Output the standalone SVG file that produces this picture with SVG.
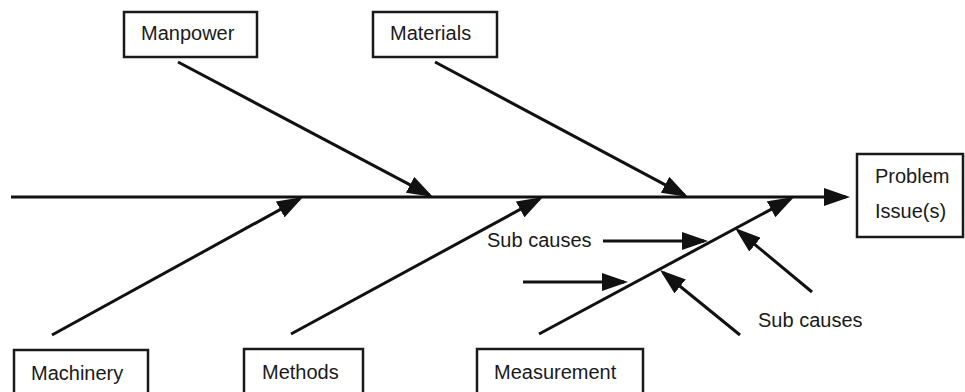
<svg xmlns="http://www.w3.org/2000/svg" width="965" height="392" viewBox="0 0 965 392">
  <style>
    .box { fill: #fff; stroke: #1a1a1a; stroke-width: 2.5; }
    .lbl { font-family: "Liberation Sans", Arial, sans-serif; font-size: 20px; fill: #1a1a1a; }
    .bone { stroke: #111; stroke-width: 3; fill: none; marker-end: url(#head); }
  </style>
  <defs>
    <marker id="head" markerUnits="userSpaceOnUse" markerWidth="27" markerHeight="18" refX="22" refY="9" orient="auto">
      <path d="M0,0 L26,9 L0,18 z" fill="#111"/>
    </marker>
  </defs>
  <rect width="965" height="392" fill="#fff"/>

  <!-- spine, main bones and sub-cause arrows -->
  <g id="connectors">
    <line class="bone" x1="11" y1="197" x2="846" y2="197"/>
    <line class="bone" x1="178" y1="62" x2="429.5" y2="195.1"/>
    <line class="bone" x1="435" y1="62" x2="684.5" y2="195.1"/>
    <line class="bone" x1="52" y1="335" x2="299.5" y2="198.9"/>
    <line class="bone" x1="291" y1="334" x2="539.5" y2="198.9"/>
    <line class="bone" x1="539" y1="334" x2="790.5" y2="198.9"/>
    <line class="bone" x1="603" y1="241" x2="704" y2="241"/>
    <line class="bone" x1="523" y1="282" x2="624" y2="282"/>
    <line class="bone" x1="740" y1="335" x2="663.1" y2="272.5"/>
    <line class="bone" x1="812" y1="292" x2="738.1" y2="230.6"/>
  </g>

  <g id="manpower">
    <rect class="box" x="124" y="12" width="133" height="45"/>
    <text class="lbl" x="141" y="40">Manpower</text>
  </g>
  <g id="materials">
    <rect class="box" x="373" y="12" width="124" height="45"/>
    <text class="lbl" x="390" y="40">Materials</text>
  </g>
  <g id="problem">
    <rect class="box" x="857" y="154" width="106" height="83"/>
    <text class="lbl" x="875" y="183">Problem</text>
    <text class="lbl" x="875" y="218">Issue(s)</text>
  </g>
  <g id="machinery">
    <rect class="box" x="14" y="350" width="134" height="50"/>
    <text class="lbl" x="31" y="380">Machinery</text>
  </g>
  <g id="methods">
    <rect class="box" x="244" y="349" width="119" height="50"/>
    <text class="lbl" x="262" y="379">Methods</text>
  </g>
  <g id="measurement">
    <rect class="box" x="477" y="349" width="166" height="50"/>
    <text class="lbl" x="494" y="379">Measurement</text>
  </g>
  <g id="sub-causes-left">
    <text class="lbl" x="487" y="247">Sub causes</text>
  </g>
  <g id="sub-causes-right">
    <text class="lbl" x="758" y="327">Sub causes</text>
  </g>
</svg>
